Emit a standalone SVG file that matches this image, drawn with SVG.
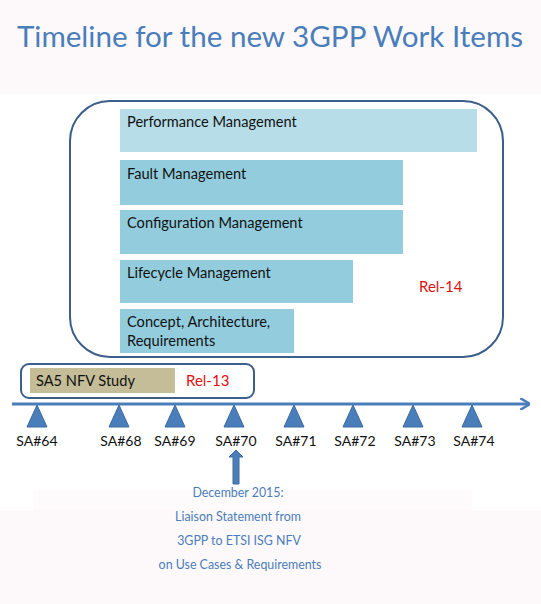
<svg xmlns="http://www.w3.org/2000/svg" width="541" height="604" viewBox="0 0 541 604">
<style>
.t{font-family:Lato,"Liberation Sans",sans-serif;font-size:14.6px;fill:#111}
.red{font-family:Lato,"Liberation Sans",sans-serif;font-size:15px;fill:#e01010}
.sa{font-family:Lato,"Liberation Sans",sans-serif;font-size:14px;fill:#111;text-anchor:middle}
.note{font-family:Lato,"Liberation Sans",sans-serif;font-size:12.4px;fill:#4a7ebb;text-anchor:middle}
.bar{fill:#93cddd}
.tri{fill:#4a7ebb;stroke:#3c6aa0;stroke-width:1}
</style>
<defs>
<marker id="ah" markerWidth="10" markerHeight="12" refX="9" refY="6" orient="auto" markerUnits="userSpaceOnUse">
<path d="M0,0 L10,6 L0,12" fill="none" stroke="#4a7ebb" stroke-width="2.5"/>
</marker>
</defs>
<rect x="0" y="0" width="541" height="604" fill="#ffffff"/>
<rect x="0" y="0" width="541" height="94" fill="#fdf8fa"/>
<rect x="0" y="510" width="541" height="94" fill="#fdf8fa"/>
<rect x="33" y="490" width="439" height="20" fill="#fefbfc"/>
<g id="title">
<text x="270" y="47" text-anchor="middle" style="font-family:Lato,'Liberation Sans',sans-serif;font-size:29.6px;fill:#4a7ebb">Timeline for the new 3GPP Work Items</text>
</g>
<g id="rel14">
<rect x="70" y="101" width="433" height="256" rx="40" ry="40" fill="#fff" stroke="#3b5f8a" stroke-width="2"/>
<text x="419" y="292" class="red">Rel-14</text>
</g>
<g id="perf">
<rect x="120" y="109" width="357" height="43" fill="#b7dde8"/>
<text x="127" y="127" class="t">Performance Management</text>
</g>
<g id="fault">
<rect x="120" y="160" width="283" height="45" class="bar"/>
<text x="127" y="179" class="t">Fault Management</text>
</g>
<g id="config">
<rect x="120" y="210" width="283" height="44" class="bar"/>
<text x="127" y="228" class="t">Configuration Management</text>
</g>
<g id="lifecycle">
<rect x="120" y="260" width="233" height="43" class="bar"/>
<text x="127" y="278" class="t">Lifecycle Management</text>
</g>
<g id="concept">
<rect x="120" y="309" width="174" height="44" class="bar"/>
<text x="127" y="327" class="t">Concept, Architecture,</text>
<text x="127" y="346" class="t">Requirements</text>
</g>
<g id="rel13">
<rect x="21" y="364" width="233" height="34" rx="8" ry="8" fill="#fff" stroke="#3b5f8a" stroke-width="2"/>
<rect x="30" y="368" width="145" height="25" fill="#c4bd97"/>
<text x="36" y="386" class="t">SA5 NFV Study</text>
<text x="186" y="386" class="red">Rel-13</text>
</g>
<g id="connectors">
<line x1="12" y1="404" x2="529" y2="404" stroke="#4a7ebb" stroke-width="3" marker-end="url(#ah)"/>
<path d="M236,450 L243,457 L239,457 L239,484 L233,484 L233,457 L229,457 Z" fill="#4a7ebb" stroke="#3c6aa0" stroke-width="1"/>
</g>
<g id="sa64"><path d="M37,405 L47,427 L27,427 Z" class="tri"/><text x="37" y="446" class="sa">SA#64</text></g>
<g id="sa68"><path d="M119,405 L129,427 L109,427 Z" class="tri"/><text x="121" y="446" class="sa">SA#68</text></g>
<g id="sa69"><path d="M175,405 L185,427 L165,427 Z" class="tri"/><text x="175" y="446" class="sa">SA#69</text></g>
<g id="sa70"><path d="M234,405 L244,427 L224,427 Z" class="tri"/><text x="236" y="446" class="sa">SA#70</text></g>
<g id="sa71"><path d="M294,405 L304,427 L284,427 Z" class="tri"/><text x="296" y="446" class="sa">SA#71</text></g>
<g id="sa72"><path d="M353,405 L363,427 L343,427 Z" class="tri"/><text x="355" y="446" class="sa">SA#72</text></g>
<g id="sa73"><path d="M413,405 L423,427 L403,427 Z" class="tri"/><text x="415" y="446" class="sa">SA#73</text></g>
<g id="sa74"><path d="M472,405 L482,427 L462,427 Z" class="tri"/><text x="474" y="446" class="sa">SA#74</text></g>
<g id="note">
<text x="238" y="497" class="note">December 2015:</text>
<text x="238" y="521" class="note">Liaison Statement from</text>
<text x="239" y="545" class="note">3GPP to ETSI ISG NFV</text>
<text x="240" y="569" class="note">on Use Cases &amp; Requirements</text>
</g>
</svg>
